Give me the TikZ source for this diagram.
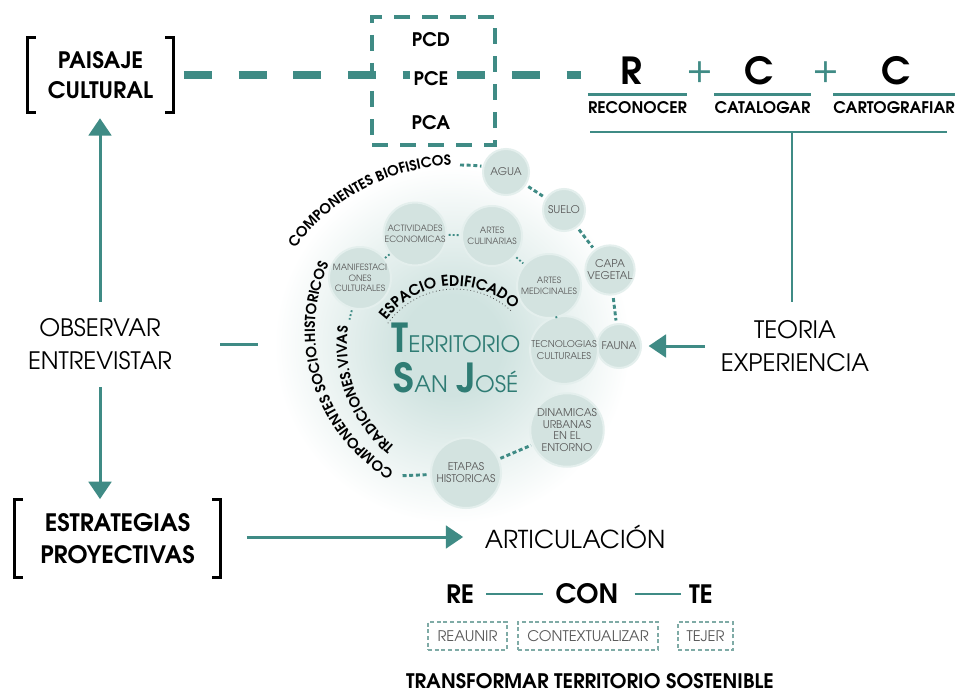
\documentclass[tikz,border=0pt]{standalone}
\usepackage{fontspec}
\setmainfont{TeX Gyre Adventor}
\usetikzlibrary{arrows.meta,calc,decorations.text}
\definecolor{teal1}{HTML}{3F8B85}
\definecolor{tealtxt}{HTML}{2F7C74}
\definecolor{bubfill}{HTML}{D3E3E0}
\definecolor{bubedge}{HTML}{E4EFED}
\definecolor{graytxt}{HTML}{5A5A5A}
\definecolor{discin}{HTML}{D0E3E0}
\definecolor{dboxc}{HTML}{7FABA6}
\pgfdeclareradialshading{discshade}{\pgfpoint{0bp}{0bp}}{color(0bp)=(discin); color(7bp)=(discin); color(25bp)=(white); color(50bp)=(white)}
\newcommand\fsz[1]{\fontsize{#1}{#1}\selectfont}
\newcommand\fszb[2]{\fontsize{#1}{#2}\selectfont}
\newcommand\arcf{\fsz{10.5}\bfseries}
\newcommand\arcg{\fsz{11}\bfseries}
\begin{document}
\begin{tikzpicture}[x=0.75pt,y=0.75pt,
  tl/.style={draw=teal1,line width=2.25pt},
  arr/.style={draw=teal1,line width=2.25pt,-{Triangle[length=13pt,width=17pt]}},
  brk/.style={draw=black,line width=2.25pt,line join=miter},
  plain/.style={inner sep=0pt,align=center},
  bub/.style={circle,fill=bubfill,draw=bubedge,line width=1.5pt,inner sep=0pt,text=graytxt,align=center},
  dconn/.style={draw=teal1,line width=2.2pt,dash pattern=on 3pt off 2pt},
  dotconn/.style={draw=teal1,line width=1.4pt,dash pattern=on 1.4pt off 1.6pt},
  dbox/.style={draw=dboxc,line width=0.8pt,dash pattern=on 3pt off 2pt,inner sep=0pt,text=graytxt,font=\fsz{11}},
  arctext/.style={decorate,decoration={text along path,text align=center,text color=black,text={|\arcf|#1}}},
  arctextb/.style={decorate,decoration={text along path,text align=center,text color=black,text={|\arcg|#1}}}
]
\fill[white] (0,0) rectangle (960,-692);
\useasboundingbox (0,0) rectangle (960,-692);

% central glow
\shade[shading=discshade] (452,-345) circle (178);

% ---------- top left: paisaje cultural
\node[plain,font=\fszb{17}{22.5}\bfseries,minimum width=108.75pt,minimum height=55.5pt] (PAI) at (100.5,-75) {PAISAJE\\CULTURAL};
\draw[brk] ($(PAI.north west)+(8,0)$) -- (PAI.north west) -- (PAI.south west) -- ++(8,0);
\draw[brk] ($(PAI.north east)+(-8,0)$) -- (PAI.north east) -- (PAI.south east) -- ++(-8,0);

% ---------- PCD box
\node[draw=teal1,line width=3pt,dash pattern=on 12pt off 9pt,minimum width=92.25pt,minimum height=96pt] (PCB) at (433.5,-81) {};

% ---------- R + C + C
\node[plain,font=\fsz{28}\bfseries] (RR) at (631,-71) {R};
\node[plain,font=\fsz{28},text=teal1] (PL1) at (700,-72) {+};
\node[plain,font=\fsz{28}\bfseries] (C1) at (759,-71) {C};
\node[plain,font=\fsz{28},text=teal1] (PL2) at (826,-72) {+};
\node[plain,font=\fsz{28}\bfseries] (C2) at (896,-71) {C};
\node[plain,font=\fsz{12}\bfseries,minimum width=68.25pt,minimum height=19.5pt] (REC) at (637.5,-108) {RECONOCER};
\node[plain,font=\fsz{12}\bfseries,minimum width=68.25pt,minimum height=19.5pt] (CAT) at (762.5,-108) {CATALOGAR};
\node[plain,font=\fsz{12}\bfseries,minimum width=76.5pt,minimum height=19.5pt] (CAR) at (894,-108) {CARTOGRAFIAR};
\draw[tl,line width=1.9pt] (REC.north west) -- (REC.north east);
\draw[tl,line width=1.9pt] (CAT.north west) -- (CAT.north east);
\draw[tl,line width=1.9pt] (CAR.north west) -- (CAR.north east);
\coordinate (barL) at (590,-132);
\coordinate (barR) at (947,-132);
\coordinate (hub) at (792,-132);
\draw[tl,line width=1.9pt] (barL) -- (barR);

% thick dashed link
\draw[draw=teal1,line width=6pt,dash pattern=on 21pt off 20pt,shorten <=8pt,shorten >=5pt] (PAI.east) -- (PAI.east -| REC.north west);

\node[plain,font=\fsz{14}\bfseries] (PCD) at (431,-40) {PCD};
\node[plain,font=\fsz{14}\bfseries,fill=white,inner sep=3pt] (PCE) at (431,-79) {PCE};
\node[plain,font=\fsz{14}\bfseries] (PCA) at (431,-123) {PCA};

% ---------- teoria experiencia
\node[plain,font=\fszb{18}{24.75},minimum width=135pt,minimum height=66pt] (TEO) at (795,-346) {TEORIA\\EXPERIENCIA};
\draw[tl,line width=1.9pt] (hub) -- (hub |- TEO.north);

% ---------- observar entrevistar
\node[plain,font=\fszb{18}{24.75},minimum width=180pt,minimum height=63.75pt] (OBS) at (100,-344.5) {OBSERVAR\\ENTREVISTAR};
\coordinate (obsend) at (258,-344.5);
\draw[tl] (OBS.east) -- (obsend);
\draw[arr,shorten >=4.5pt] (OBS.north) -- (OBS.north |- PAI.south);

% ---------- estrategias
\node[plain,font=\fszb{18}{24}\bfseries,minimum width=153.75pt,minimum height=57.75pt] (EST) at (117.5,-538.5) {ESTRATEGIAS\\PROYECTIVAS};
\draw[brk] ($(EST.north west)+(8,0)$) -- (EST.north west) -- (EST.south west) -- ++(8,0);
\draw[brk] ($(EST.north east)+(-8,0)$) -- (EST.north east) -- (EST.south east) -- ++(-8,0);
\draw[arr,shorten >=0.5pt] (OBS.south) -- (OBS.south |- EST.north);

% ---------- articulacion
\node[plain,font=\fsz{18.5}] (ART) at (575,-537) {ARTICULACIÓN};
\draw[arr,shorten <=20pt,shorten >=16pt] (EST.east |- ART.west) -- (ART.west);

% ---------- RE CON TE
\node[plain,font=\fsz{19}\bfseries] (RE) at (460,-594) {RE};
\node[plain,font=\fsz{20}\bfseries] (CON) at (587,-594) {CON};
\node[plain,font=\fsz{19}\bfseries] (TE) at (701,-594) {TE};
\draw[teal1,line width=1.1pt,shorten <=9pt,shorten >=9pt] (RE.east) -- (CON.west);
\draw[teal1,line width=1.1pt,shorten <=12pt,shorten >=6pt] (CON.east) -- (TE.west);
\node[dbox,minimum width=59.25pt,minimum height=21pt] (REU) at (467.5,-636) {REAUNIR};
\node[dbox,minimum width=105pt,minimum height=21pt] (CTX) at (588,-636) {CONTEXTUALIZAR};
\node[dbox,minimum width=41.25pt,minimum height=21pt] (TEJ) at (705.5,-636) {TEJER};
\node[plain,font=\fsz{15}\bfseries] (TRA) at (590,-681) {TRANSFORMAR TERRITORIO SOSTENIBLE};

% ---------- arc texts
\path[arctext={COMPONENTES BIOFISICOS}] ([shift={(146:205)}]460,-370) arc[start angle=146,end angle=90,radius=205];
\path[arctext={COMPONENTES SOCIO.HISTORICOS}] ([shift={(243:165)}]480,-330) arc[start angle=243,end angle=152,radius=165];
\path[arctext={TRADICIONES.VIVAS}] ([shift={(236:133)}]480,-345) arc[start angle=236,end angle=166,radius=133];
\path[arctextb={ESPACIO EDIFICADO}] ([shift={(150:86)}]455,-372) arc[start angle=150,end angle=40,radius=86];
\draw[black!70,line width=0.6pt,dotted] ([shift={(144:83)}]455,-372) arc[start angle=144,end angle=46,radius=83];
\draw[dconn] ([shift={(90:205)}]460,-370) arc[start angle=90,end angle=84,radius=205];
\coordinate (sochA) at ([shift={(242:165)}]480,-330);
\coordinate (tradA) at ([shift={(169:133)}]480,-345);

% ---------- bubbles
\node[bub,minimum size=34.5pt,font=\fsz{8}] (AGUA) at (506,-172) {AGUA};
\node[bub,minimum size=31.5pt,font=\fsz{8}] (SUELO) at (564,-210) {SUELO};
\node[bub,minimum size=34.5pt,font=\fszb{8}{9}] (CAPA) at (610,-270) {CAPA\\VEGETAL};
\node[bub,minimum size=33pt,font=\fsz{8}] (FAUNA) at (619,-346) {FAUNA};
\node[bub,minimum size=48pt,font=\fszb{7}{8.5}] (TEC) at (564,-350) {TECNOLOGIAS\\CULTURALES};
\node[bub,minimum size=48pt,font=\fszb{6.5}{8}] (MED) at (549,-286) {ARTES\\MEDICINALES};
\node[bub,minimum size=49.5pt,font=\fszb{8}{8.6}] (DIN) at (567,-430) {DINAMICAS\\URBANAS\\EN EL\\ENTORNO};
\node[bub,minimum size=52.5pt,font=\fszb{8}{9}] (ETA) at (466,-473) {ETAPAS\\HISTORICAS};
\node[bub,minimum size=45pt,font=\fszb{6.5}{8}] (CUL) at (492,-236) {ARTES\\CULINARIAS};
\node[bub,minimum size=45pt,font=\fszb{6.5}{8}] (ACT) at (415,-234) {ACTIVIDADES\\ECONOMICAS};
\node[bub,minimum size=46.5pt,font=\fszb{6.5}{8}] (MAN) at (360,-278) {MANIFESTACI\\ONES\\CULTURALES};

% ---------- bubble connectors
\draw[dconn,shorten <=2pt,shorten >=2pt] (AGUA) -- (SUELO);
\draw[dconn,shorten <=2pt,shorten >=2pt] (SUELO) -- (CAPA);
\draw[dconn,shorten <=2pt,shorten >=2pt] (CAPA) -- (FAUNA);
\draw[dconn,shorten <=1pt,shorten >=1pt] (ETA) -- (DIN);
\draw[dconn,shorten >=1pt] (sochA) -- (ETA);
\draw[dotconn,shorten <=1pt,shorten >=1pt] (ACT) -- (CUL);
\draw[dotconn,shorten <=1pt,shorten >=1pt] (CUL) -- (MED);
\draw[dotconn] (MED) -- (TEC);
\draw[dotconn] (MAN) -- (ACT);
\draw[dotconn,shorten <=1pt] (MAN) -- (tradA);

% arrow theory -> fauna
\draw[arr,shorten >=5pt] (TEO.west) -- (TEO.west -| FAUNA.east);

% ---------- central title
\node[plain,anchor=base,text=tealtxt] (TER) at (456,-352) {{\fsz{30}\bfseries T}{\fsz{17}ERRITORIO}};
\node[plain,anchor=base,text=tealtxt] (SJ) at (456,-392) {{\fsz{30}\bfseries S}{\fsz{17}AN}\hspace{6pt}{\fsz{30}\bfseries J}{\fsz{17}OSÉ}};
\end{tikzpicture}
\end{document}
